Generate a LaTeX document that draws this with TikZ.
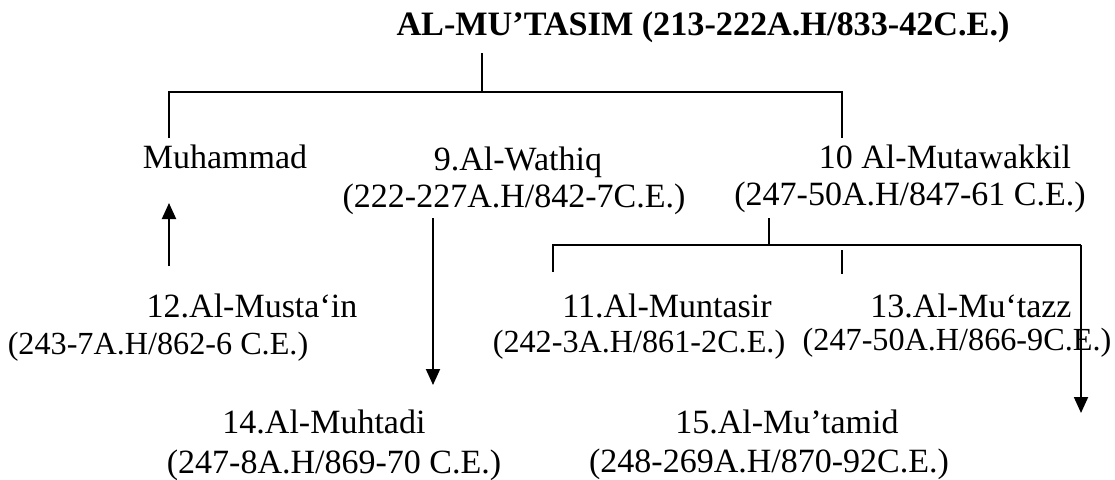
\documentclass[tikz,border=0pt]{standalone}
\usepackage{fontspec}
\setmainfont{Liberation Serif}
\usetikzlibrary{arrows.meta}
\begin{document}
\begin{tikzpicture}[x=1pt,y=-1pt,
  txt/.style={inner sep=0pt, anchor=base, font=\fontsize{34}{40}\selectfont},
  txtn/.style={inner sep=0pt, anchor=base, font=\fontsize{32.2}{40}\selectfont},
  ttl/.style={inner sep=0pt, anchor=base, font=\fontsize{34.2}{40}\selectfont\bfseries},
  ln/.style={line width=1.9pt},
  arr/.style={line width=1.9pt, -{Triangle[width=14pt,length=16pt]}}]
\useasboundingbox (0,0) rectangle (1115,479);
% texts
\node[ttl] (mutasim) at (703,35) {AL-MU’TASIM (213-222A.H/833-42C.E.)};
\node[txt] (muhammad) at (225,168) {Muhammad};
\node[txt] (wathiq) at (518,170) {9.Al-Wathiq};
\node[txt] (wathiqd) at (514,207) {(222-227A.H/842-7C.E.)};
\node[txt] (mutawakkil) at (945,168) {10 Al-Mutawakkil};
\node[txt] (mutawakkild) at (910,205) {(247-50A.H/847-61 C.E.)};
\node[txt] (mustain) at (252,317) {12.Al-Musta‘in};
\node[txtn] (mustaind) at (158,354) {(243-7A.H/862-6 C.E.)};
\node[txt] (muntasir) at (667,317) {11.Al-Muntasir};
\node[txtn] (muntasird) at (639,352) {(242-3A.H/861-2C.E.)};
\node[txt] (mutazz) at (971,317) {13.Al-Mu‘tazz};
\node[txtn] (mutazzd) at (957,350) {(247-50A.H/866-9C.E.)};
\node[txt] (muhtadi) at (324,433) {14.Al-Muhtadi};
\node[txt] (muhtadid) at (334,473) {(247-8A.H/869-70 C.E.)};
\node[txt] (mutamid) at (787,433) {15.Al-Mu’tamid};
\node[txt] (mutamidd) at (769,472) {(248-269A.H/870-92C.E.)};
% junction coordinates
\coordinate (t1) at (482,53);
\coordinate (t2) at (482,92);
\coordinate (hL) at (169,92);
\coordinate (hR) at (842,92);
\coordinate (mL) at (169,138);
\coordinate (mR) at (842,138);
\coordinate (upS) at (169,266);
\coordinate (upE) at (169,203);
\coordinate (dnS) at (433,218);
\coordinate (dnE) at (433,385);
\coordinate (v1) at (769,218);
\coordinate (v2) at (769,245);
\coordinate (bL) at (553,245);
\coordinate (bLd) at (553,272);
\coordinate (bR) at (1081,245);
\coordinate (bRe) at (1081,413);
\coordinate (tk1) at (842,250);
\coordinate (tk2) at (842,274);
% connectors
\draw[ln] (t1) -- (t2);
\draw[ln] (mL) -- (hL) -- (hR) -- (mR);
\draw[arr] (upS) -- (upE);
\draw[arr] (dnS) -- (dnE);
\draw[ln] (v1) -- (v2);
\draw[ln] (bLd) -- (bL) -- (bR);
\draw[arr] (bR) -- (bRe);
\draw[ln] (tk1) -- (tk2);
\end{tikzpicture}
\end{document}
